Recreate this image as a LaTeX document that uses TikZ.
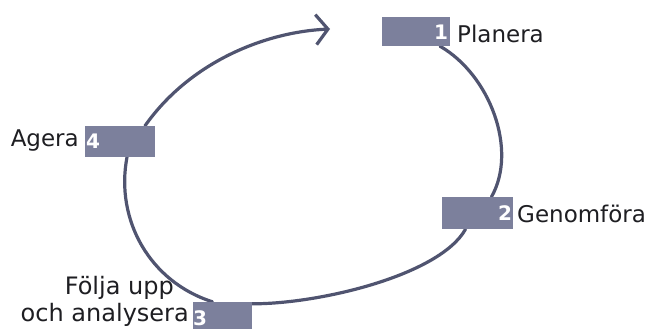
\documentclass[tikz,border=0pt]{standalone}
\usepackage{fontspec}
\setmainfont{DejaVu Sans}
\usetikzlibrary{arrows.meta,calc}
\definecolor{boxgray}{RGB}{124,128,156}
\definecolor{loopcol}{RGB}{80,84,112}
\definecolor{txt}{RGB}{30,30,34}
\begin{document}
\begin{tikzpicture}[x=1pt,y=-1pt,
  stepbox/.style={draw=none,fill=boxgray,minimum width=#1,inner sep=0pt},
  num/.style={text=white,font=\fontsize{20}{20}\selectfont\bfseries,inner sep=0pt},
  lbl/.style={text=txt,font=\fontsize{23}{26}\selectfont,inner sep=0pt},
  lblb/.style={text=txt,font=\fontsize{24}{28}\selectfont,inner sep=0pt},
  loop/.style={draw=loopcol,line width=3.2pt,line cap=round}]
\useasboundingbox (0,0) rectangle (656,329);
% boxes
\node[stepbox=68pt,minimum height=29pt] (b1) at (416,31.5) {};
\node[stepbox=70pt,minimum height=31pt] (b4) at (120,141.5) {};
\node[stepbox=71pt,minimum height=32pt] (b2) at (477.5,213) {};
\node[stepbox=59pt,minimum height=32pt] (b3) at (222.5,318) {};
\coordinate (tip) at (330,29);
% loop
\draw[loop] ([xshift=24pt]b1.south) .. controls (490,75) and (518,150) .. ([xshift=14pt]b2.north);
\draw[loop] ([xshift=-12pt]b2.south) .. controls (440,275) and (320,304) .. ([yshift=-2pt]b3.north east);
\draw[loop] ([xshift=-10pt]b3.north) .. controls (150,282) and (115,220) .. ([xshift=7pt]b4.south);
\draw[loop,-{Straight Barb[length=12pt,width=30pt,line width=3.2pt]}] ([xshift=25pt]b4.north) .. controls (190,62) and (265,32) .. (tip);
% redraw boxes on top
\node[stepbox=68pt,minimum height=29pt] at (b1) {};
\node[stepbox=70pt,minimum height=31pt] at (b4) {};
\node[stepbox=71pt,minimum height=32pt] at (b2) {};
\node[stepbox=59pt,minimum height=32pt] at (b3) {};
% numbers
\node[num] (n1) at (441,32) {1};
\node[num] (n4) at (93,141) {4};
\node[num] (n2) at (505,213) {2};
\node[num] (n3) at (200,318) {3};
% labels
\node[lbl,anchor=west] (l1) at (457,34) {Planera};
\node[lbl,anchor=east] (l4) at (79,141) {Agera};
\node[lbl,anchor=west] (l2) at (517,214) {Genomföra};
\node[lblb,anchor=base east] (l3a) at (174,294) {Följa upp};
\node[lblb,anchor=base east] (l3b) at (189,321) {och analysera};
\end{tikzpicture}
\end{document}
